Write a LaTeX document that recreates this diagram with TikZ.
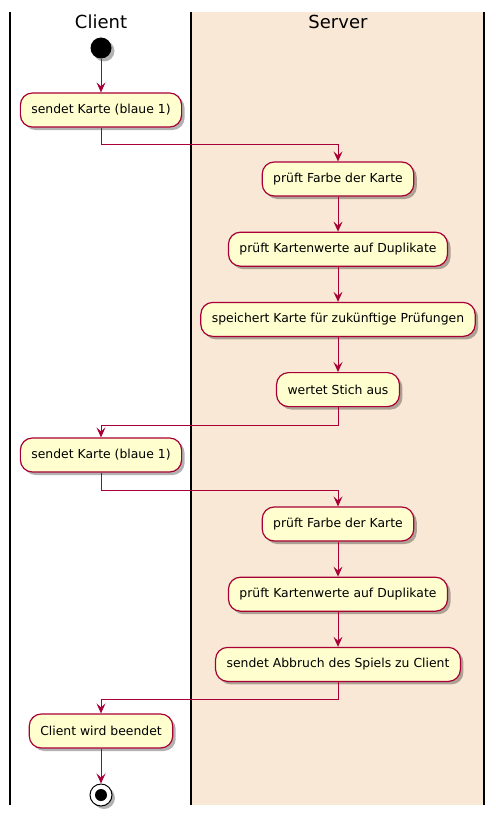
\documentclass[tikz,border=0pt]{standalone}
\usepackage{fontspec}
\setmainfont{DejaVu Sans}
\usetikzlibrary{positioning, arrows.meta, shadows}

\definecolor{actfill}{HTML}{FEFECE}
\definecolor{actline}{HTML}{A80036}
\definecolor{lanefill}{HTML}{F9E8D5}

\tikzset{
    act/.style={draw=actline, fill=actfill, line width=1.2pt, rounded corners=12pt,
        minimum height=34pt, inner xsep=11pt,
        font=\fontsize{12.4}{14}\selectfont,
        drop shadow={shadow xshift=3pt, shadow yshift=-3pt, opacity=0.3, fill=black}},
    flow/.style={draw=actline, line width=0.9pt, -{Stealth[length=10pt, width=9pt, inset=4pt]}},
    lane/.style={line width=1.3pt, black},
    title/.style={font=\fontsize{18}{20}\selectfont}
}

\begin{document}
\begin{tikzpicture}[x=1pt, y=-1pt, node distance=35pt]
    \useasboundingbox (0, 0) rectangle (495, 816);
    % swimlanes
    \fill [lanefill] (191, 12) rectangle (484, 805);
    \draw [lane] (10, 12) -- (10, 805);
    \draw [lane] (191, 12) -- (191, 805);
    \draw [lane] (484, 12) -- (484, 805);
    \node (client) [title] at (101, 22) {Client};
    \node (server) [title] at (338, 22) {Server};

    % first round
    \node (start) [circle, fill=black, minimum size=21pt, inner sep=0pt,
        drop shadow={shadow xshift=3pt, shadow yshift=-3pt, opacity=0.3, fill=black}] at (101, 48) {};
    \node (send1) [act] at (101, 110) {sendet Karte (blaue 1)};
    \node (farbe1) [act] at (338, 179) {prüft Farbe der Karte};
    \node (dupl1) [act, below=of farbe1] {prüft Kartenwerte auf Duplikate};
    \node (save) [act, below=of dupl1] {speichert Karte für zukünftige Prüfungen};
    \node (stich) [act, below=of save] {wertet Stich aus};

    % second round
    \node (send2) [act] at (101, 455) {sendet Karte (blaue 1)};
    \node (farbe2) [act] at (338, 524) {prüft Farbe der Karte};
    \node (dupl2) [act, below=of farbe2] {prüft Kartenwerte auf Duplikate};
    \node (abort) [act, below=of dupl2] {sendet Abbruch des Spiels zu Client};
    \node (quit) [act] at (101, 731) {Client wird beendet};
    \node (stop) [circle, draw=black, fill=white, line width=1pt, minimum size=22pt, inner sep=0pt,
        drop shadow={shadow xshift=3pt, shadow yshift=-3pt, opacity=0.3, fill=black}] at (101, 795) {};
    \fill (stop.center) circle (6pt);

    \draw [flow] (start) -- (send1);
    \draw [flow] (send1.south) -- ++(0, 17) -| (farbe1.north);
    \draw [flow] (farbe1) -- (dupl1);
    \draw [flow] (dupl1) -- (save);
    \draw [flow] (save) -- (stich);
    \draw [flow] (stich.south) -- ++(0, 18) -| (send2.north);
    \draw [flow] (send2.south) -- ++(0, 18) -| (farbe2.north);
    \draw [flow] (farbe2) -- (dupl2);
    \draw [flow] (dupl2) -- (abort);
    \draw [flow] (abort.south) -- ++(0, 17) -| (quit.north);
    \draw [flow] (quit) -- (stop);
\end{tikzpicture}
\end{document}
